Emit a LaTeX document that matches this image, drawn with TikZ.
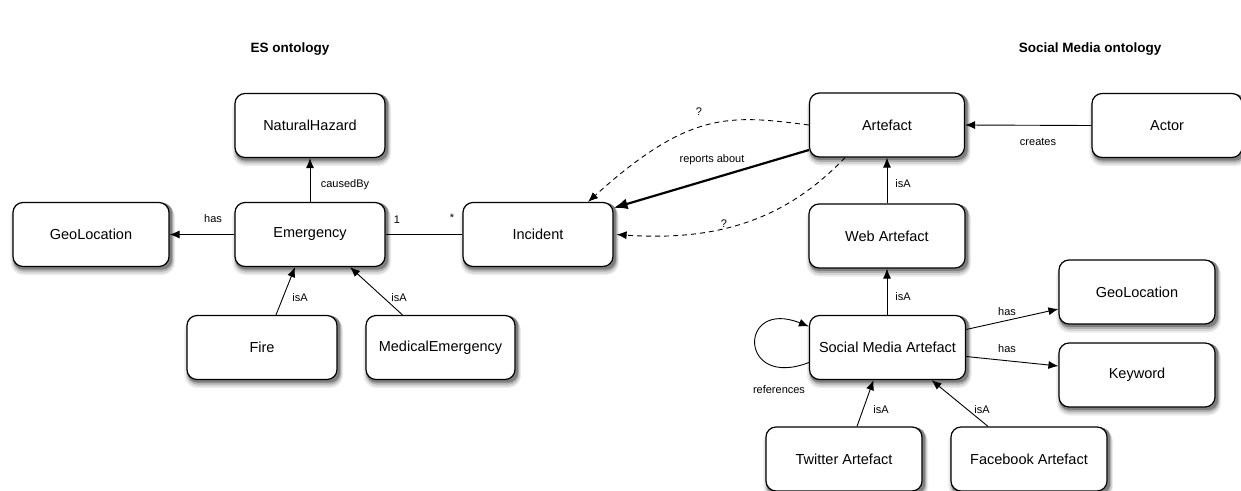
\documentclass[tikz,border=0pt]{standalone}
\usepackage{fontspec}
\setmainfont{Liberation Sans}
\usetikzlibrary{arrows.meta,calc}
\pgfdeclarelayer{paper}
\pgfdeclarelayer{shade}
\pgfsetlayers{paper,shade,main}
\begin{document}
\begin{tikzpicture}[x=1pt,y=-1pt,
  box/.style={draw, line width=1.2pt, rounded corners=10pt, minimum height=64pt, fill=white,
    font=\fontsize{14.5}{16}\selectfont, inner sep=2pt},
  lbl/.style={font=\fontsize{11}{13}\selectfont, inner sep=0pt},
  ttl/.style={font=\bfseries\fontsize{13.5}{15}\selectfont, inner sep=0pt},
  arr/.style={line width=0.9pt, -{Latex[length=10pt,width=8pt]}},
  darr/.style={line width=0.9pt, dash pattern=on 5pt off 4pt, -{Latex[length=10pt,width=8pt]}},
  tarr/.style={line width=2.2pt, -{Latex[length=14pt,width=11pt]}}]
\useasboundingbox (0,0) rectangle (1241,490);
\begin{pgfonlayer}{paper}
\fill[white] (0,0) rectangle (1241,490);
\end{pgfonlayer}

\node[ttl] (t1) at (290,49) {ES ontology};
\node[ttl] (t2) at (1090,49) {Social Media ontology};

% left side
\node[box, minimum width=150pt] (nh) at (310,125.5) {NaturalHazard};
\node[box, minimum width=150pt] (emg) at (310,234.5) {Emergency};
\node[box, minimum width=156pt] (geo1) at (91,234.5) {GeoLocation};
\node[box, minimum width=150pt] (fire) at (262,347.5) {Fire};
\node[box, minimum width=149pt] (med) at (440.5,347.5) {MedicalEmergency};
\node[box, minimum width=150pt] (inc) at (538,234.5) {Incident};

% right side
\node[box, minimum width=155pt] (art) at (887,125) {Artefact};
\node[box, minimum width=150pt] (actor) at (1167,125.5) {Actor};
\node[box, minimum width=156pt] (web) at (887,236) {Web Artefact};
\node[box, minimum width=156pt] (sma) at (887.5,347.5) {Social Media Artefact};
\node[box, minimum width=156pt] (geo2) at (1137,292) {GeoLocation};
\node[box, minimum width=156pt] (kw) at (1137,375) {Keyword};
\node[box, minimum width=156pt] (tw) at (844,459) {Twitter Artefact};
\node[box, minimum width=156pt] (fb) at (1029,459) {Facebook Artefact};

% shadows
\begin{pgfonlayer}{shade}
\foreach \n in {nh,emg,geo1,fire,med,inc,art,actor,web,sma,geo2,kw,tw,fb}{
  \fill[black!7, rounded corners=13pt] ([shift={(-2pt,-8pt)}]\n.south west) rectangle ([shift={(5.5pt,-3pt)}]\n.north east);
  \fill[black!16, rounded corners=12pt] ([shift={(-0.5pt,-6.5pt)}]\n.south west) rectangle ([shift={(4.5pt,-2pt)}]\n.north east);
  \fill[black!30, rounded corners=11pt] ([shift={(0.5pt,-4.5pt)}]\n.south west) rectangle ([shift={(3.5pt,-1pt)}]\n.north east);
  \fill[black!50, rounded corners=10pt] ([shift={(1pt,-2.5pt)}]\n.south west) rectangle ([shift={(2.5pt,-1pt)}]\n.north east);
}
\end{pgfonlayer}

% left edges
\draw[arr] (emg.north) -- (nh.south);
\node[lbl] (l1) at (345,185) {causedBy};
\draw[arr] (emg.west) -- (geo1.east);
\node[lbl] (l2) at (213,219) {has};
\draw[line width=0.9pt] (emg.east) -- (inc.west);
\node[lbl] (l3) at (397,220) {1};
\node[lbl] (l4) at (452,218) {*};
\draw[arr] ([xshift=14pt]fire.north) -- ([xshift=-15pt]emg.south);
\node[lbl] (l5) at (300,298) {isA};
\draw[arr] ([xshift=-38pt]med.north) -- ([xshift=40pt]emg.south);
\node[lbl] (l6) at (399,298) {isA};

% middle edges
\draw[tarr] ([yshift=-25pt]art.west) -- ([yshift=-6pt]inc.north east);
\node[lbl] (l7) at (712,160) {reports about};
\draw[darr] (art.west) .. controls (730,115) and (690,110) .. ([xshift=50pt]inc.north);
\node[lbl] (l8) at (699,112) {?};
\draw[darr] ([xshift=-42pt]art.south) .. controls (790,215) and (725,242) .. ([xshift=3pt]inc.east);
\node[lbl] (l9) at (724,224) {?};

% right edges
\draw[arr] (actor.west) -- (art.east);
\node[lbl] (l10) at (1038,142) {creates};
\draw[arr] (web.north) -- (art.south);
\node[lbl] (l11) at (903,184) {isA};
\draw[arr] ([xshift=-0.5pt]sma.north) -- (web.south);
\node[lbl] (l12) at (903,297) {isA};
\draw[arr] ([yshift=18pt]sma.east) -- ([yshift=-17pt]geo2.west);
\node[lbl] (l13) at (1007,312) {has};
\draw[arr] ([yshift=-9pt]sma.east) -- ([yshift=9pt]kw.west);
\node[lbl] (l14) at (1007,349) {has};
\draw[arr] ([yshift=-15pt]sma.west) .. controls (738,390) and (738,298) .. ([yshift=21pt]sma.west);
\node[lbl] (l15) at (779,390) {references};
\draw[arr] ([xshift=13pt]tw.north) -- ([xshift=-14pt]sma.south);
\node[lbl] (l16) at (881,410) {isA};
\draw[arr] ([xshift=-41pt]fb.north) -- ([xshift=44pt]sma.south);
\node[lbl] (l17) at (982,410) {isA};
\end{tikzpicture}
\end{document}
